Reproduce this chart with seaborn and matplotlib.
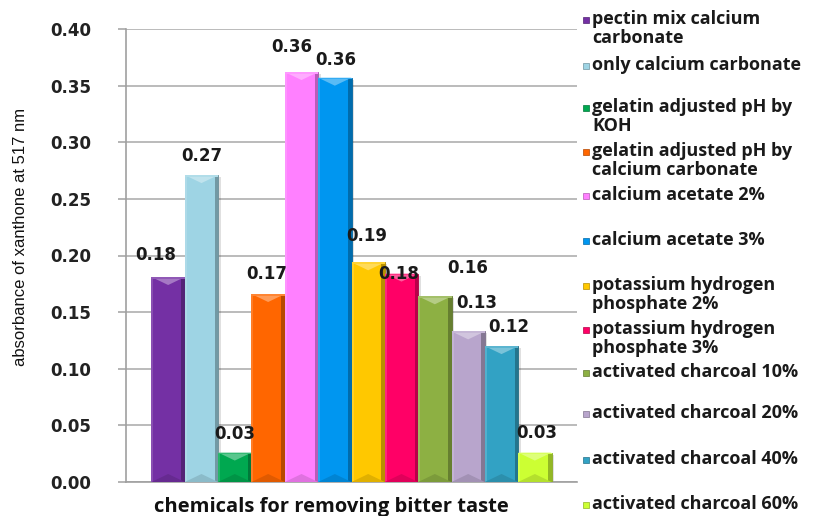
import textwrap

import matplotlib
matplotlib.use("Agg")
import matplotlib.pyplot as plt
import numpy as np
import pandas as pd
import seaborn as sns
from matplotlib import colors as mcolors
from matplotlib.patches import Polygon, Rectangle

# ---- data -------------------------------------------------------------
group_name = "chemicals for removing bitter taste"
y_title = "absorbance of xanthone at 517 nm"

treatments = [
    "pectin mix calcium carbonate",
    "only calcium carbonate",
    "gelatin adjusted pH by KOH",
    "gelatin adjusted pH by calcium carbonate",
    "calcium acetate 2%",
    "calcium acetate 3%",
    "potassium hydrogen phosphate 2%",
    "potassium hydrogen phosphate 3%",
    "activated charcoal 10%",
    "activated charcoal 20%",
    "activated charcoal 40%",
    "activated charcoal 60%",
]
absorbance = [0.181, 0.271, 0.026, 0.166, 0.362, 0.357,
              0.194, 0.184, 0.164, 0.133, 0.120, 0.026]
y_ticks = [0.00, 0.05, 0.10, 0.15, 0.20, 0.25, 0.30, 0.35, 0.40]

# ---- style ------------------------------------------------------------
bar_colors = ["#7430A4", "#9ED4E4", "#00A850", "#FF6600", "#FF80FF", "#0096F0",
              "#FFC800", "#FF0066", "#8DB043", "#B8A5CC", "#32A2C4", "#CCFF33"]
# data-label offsets from the top-centre of each bar (pixels)
label_dx = [-12, 0, 0, -1, -10, 1, -1, -3, 33, 9, 7, 2]
label_dy = [22, 19, 19, 20, 25, 18, 26, 0, 28, 28, 19, 20]
# legend row positions (pixels from top of the figure, first text line)
legend_y = [20, 66, 108, 152, 196, 241, 286, 330, 373, 414, 460, 505]

W, H, DPI = 814, 516, 100
AX_L, AX_R, AX_T, AX_B = 126, 577, 29, 482

sns.set_theme(style="white")
plt.rcParams["font.family"] = ["DejaVu Sans"]

fig = plt.figure(figsize=(W / DPI, H / DPI), dpi=DPI)
fig.patch.set_facecolor("white")
ax = fig.add_axes([AX_L / W, 1 - AX_B / H, (AX_R - AX_L) / W, (AX_B - AX_T) / H])

df = pd.DataFrame({"group": [group_name] * len(treatments),
                   "treatment": treatments,
                   "absorbance": absorbance})
sns.barplot(data=df, x="group", y="absorbance", hue="treatment",
            hue_order=treatments, palette=bar_colors, width=0.887,
            saturation=1, errorbar=None, legend=False, ax=ax)

ax.set_xlim(-0.5, 0.5)
ax.set_ylim(0, 0.40)
ax.set_axisbelow(True)
ax.yaxis.grid(True, color="#A8A8A8", linewidth=1.1)
ax.xaxis.grid(False)
for side in ("top", "right"):
    ax.spines[side].set_visible(False)
for side in ("left", "bottom"):
    ax.spines[side].set_color("#A0A0A0")
    ax.spines[side].set_linewidth(1.2)

ax.set_yticks(y_ticks)
ax.set_yticklabels([f"{t:.2f}" for t in y_ticks], fontsize=12, fontweight="bold",
                   color="#222222")
ax.tick_params(axis="y", direction="out", length=6, width=1.1, color="#A0A0A0", pad=19,
               left=True)
ax.set_xticks([])
ax.set_xlabel("")
ax.set_ylabel("")

# pixel size in data units
px_x = 1.0 / (AX_R - AX_L)
px_y = 0.40 / (AX_B - AX_T)


def shade(c, f):
    r, g, b = mcolors.to_rgb(c)
    if f >= 0:
        return (r + (1 - r) * f, g + (1 - g) * f, b + (1 - b) * f)
    return (r * (1 + f), g * (1 + f), b * (1 + f))


bars = [p for p in ax.patches if p.get_height() > 0]
bars.sort(key=lambda p: p.get_x())
for p, val, dx, dy in zip(bars, absorbance, label_dx, label_dy):
    c = p.get_facecolor()
    x0, w, h = p.get_x(), p.get_width(), p.get_height()
    p.set_zorder(3)
    p.set_edgecolor(shade(c, -0.35))
    p.set_linewidth(0.6)
    # soft drop shadow
    ax.add_patch(Rectangle((x0 + 2.5 * px_x, 0), w, h - 2 * px_y,
                           facecolor="#000000", alpha=0.12, linewidth=0, zorder=2.5))
    # bevel: light left edge, dark right edge
    ax.add_patch(Rectangle((x0, 0), 2 * px_x, h, facecolor=shade(c, 0.15),
                           linewidth=0, zorder=3.1))
    ax.add_patch(Rectangle((x0 + w - 3.5 * px_x, 0), 3.5 * px_x, h,
                           facecolor=shade(c, -0.28), linewidth=0, zorder=3.1))
    # bevel: highlighted top facet and shaded bottom facet
    tip = min(8 * px_y, h * 0.5)
    ax.add_patch(Polygon([(x0, h), (x0 + w, h), (x0 + w / 2, h - tip)],
                         closed=True, facecolor=shade(c, 0.35), linewidth=0,
                         zorder=3.2))
    ax.add_patch(Rectangle((x0, h - 1.5 * px_y), w, 1.5 * px_y,
                           facecolor=shade(c, 0.2), linewidth=0, zorder=3.3))
    ax.add_patch(Polygon([(x0, 0), (x0 + w, 0), (x0 + w / 2, tip)],
                         closed=True, facecolor=shade(c, -0.12), linewidth=0,
                         zorder=3.2))
    ax.annotate(f"{val:.2f}", xy=(x0 + w / 2, h),
                xytext=(dx * 72 / DPI, dy * 72 / DPI), textcoords="offset points",
                ha="center", va="center", fontsize=12, fontweight="bold",
                color="#1A1A1A", zorder=5)

# axis titles
fig.text(21 / W, 1 - 237 / H, y_title, rotation=90, ha="center", va="center",
         fontsize=12, family=["Liberation Sans Narrow", "Liberation Sans"],
         color="#111111")
fig.text(331 / W, 1 - 507 / H, group_name, ha="center", va="center",
         fontsize=14.5, fontweight="bold", family=["Open Sans", "DejaVu Sans"],
         color="#111111")

# legend
for name, c, y in zip(treatments, bar_colors, legend_y):
    fig.add_artist(Rectangle((583 / W, 1 - (y + 3) / H), 6 / W, 6 / H,
                             transform=fig.transFigure, facecolor=c,
                             edgecolor=shade(c, -0.3), linewidth=0.5))
    fig.text(592 / W, 1 - (y - 10) / H, textwrap.fill(name, 22), ha="left", va="top",
             fontsize=13, fontweight="bold", family=["Open Sans", "DejaVu Sans"],
             color="#1A1A1A", linespacing=1.1)

fig.savefig("out.png", dpi=DPI)
